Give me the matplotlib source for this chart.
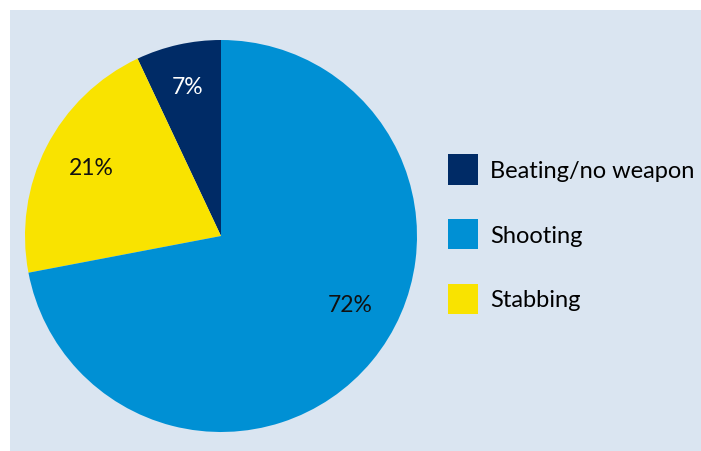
import matplotlib
matplotlib.use("Agg")
import matplotlib.pyplot as plt
from matplotlib.patches import Rectangle, Patch

plt.rcParams['font.family'] = ['Lato', 'DejaVu Sans']

# data
labels = ['Beating/no weapon', 'Stabbing', 'Shooting']
shares = [7, 21, 72]
colors = ['#002B66', '#F9E300', '#0090D4']
pct_colors = ['white', '#111111', '#111111']
legend_order = [0, 2, 1]   # Beating, Shooting, Stabbing

W, H = 701, 452
fig = plt.figure(figsize=(W / 100, H / 100), dpi=100)
fig.patch.set_facecolor('white')

# light blue panel, runs off the right and bottom edges
fig.patches.append(Rectangle((10 / W, -0.01), 1.02 - 10 / W, (H - 11) / H + 0.01,
                             transform=fig.transFigure, facecolor='#DAE5F1',
                             edgecolor='none', zorder=-5))

# pie centre (221, 237), radius 196 px
cx, cy, r = 221, 237, 196
ax = fig.add_axes([(cx - r) / W, (H - cy - r) / H, 2 * r / W, 2 * r / H])
ax.set_zorder(2)
ax.patch.set_visible(False)
wedges, texts, autotexts = ax.pie(shares, colors=colors, startangle=90,
                                  counterclock=True, autopct='%d%%',
                                  pctdistance=0.78,
                                  wedgeprops=dict(linewidth=0))
for t, c in zip(autotexts, pct_colors):
    t.set_color(c)
    t.set_fontsize(16.5)
# labels in the original are not at the slice middles
autotexts[1].set_position((-0.66, 0.35))
autotexts[2].set_position((0.66, -0.35))
ax.set_xlim(-1, 1)
ax.set_ylim(-1, 1)
ax.set_aspect('auto')
ax.axis('off')

handles = [Patch(facecolor=colors[i], edgecolor='none') for i in legend_order]
leg = fig.legend(handles, [labels[i] for i in legend_order],
                 loc='upper left', bbox_to_anchor=(439 / W, 1 - 146 / H),
                 frameon=False, fontsize=17, handlelength=1.27, handleheight=1.6,
                 handletextpad=0.5, labelspacing=1.45, borderaxespad=0)
leg.set_zorder(3)

fig.savefig('out.png', dpi=100, facecolor=fig.get_facecolor())
